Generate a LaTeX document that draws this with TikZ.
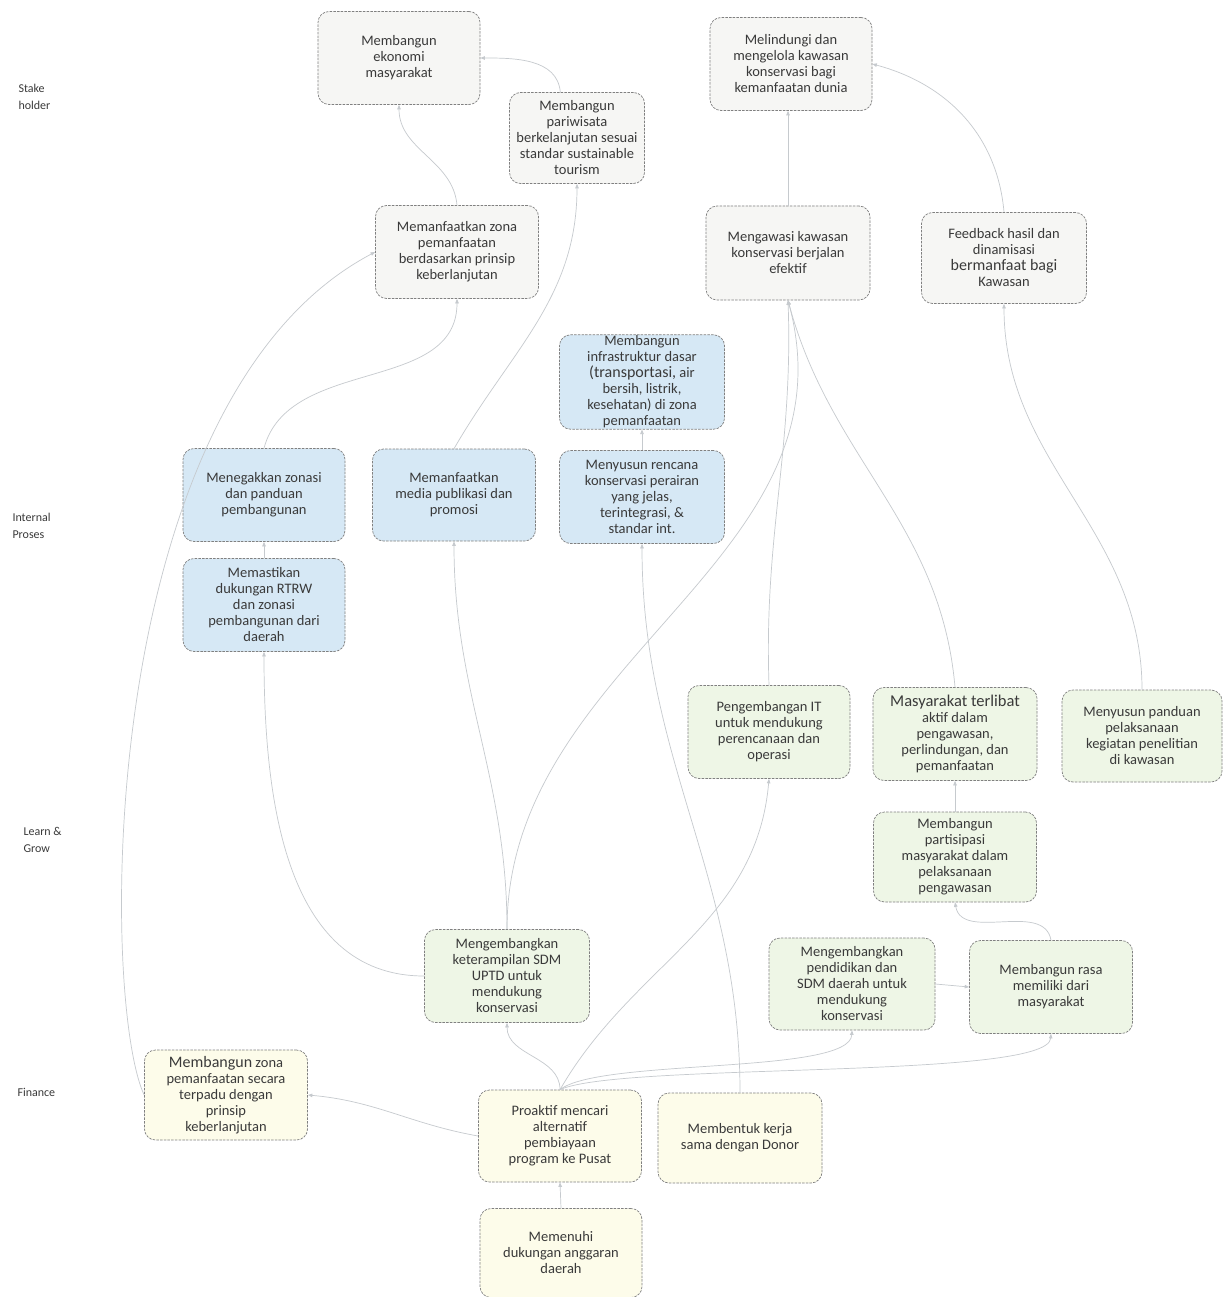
\documentclass[tikz,border=0pt]{standalone}
\usepackage{fontspec}
\setmainfont{Carlito}
\usetikzlibrary{arrows.meta}
\definecolor{shfill}{HTML}{F6F6F4}
\definecolor{ipfill}{HTML}{D6E8F5}
\definecolor{lgfill}{HTML}{EEF6E6}
\definecolor{fnfill}{HTML}{FDFCEA}
\definecolor{bordc}{HTML}{808080}
\definecolor{textc}{HTML}{3A3A3A}
\definecolor{linec}{HTML}{C6CACE}
\begin{document}
\begin{tikzpicture}[x=1pt,y=-1pt,
 box/.style={draw=bordc, line width=0.7pt, dash pattern=on 2.5pt off 1.2pt, rounded corners=11pt, align=center, text=textc, font=\fontsize{14.5}{16}\selectfont, inner sep=1pt},
 shb/.style={box, fill=shfill},
 ipb/.style={box, fill=ipfill},
 lgb/.style={box, fill=lgfill},
 fnb/.style={box, fill=fnfill},
 sz/.style 2 args={minimum width=#1pt, minimum height=#2pt},
 lab/.style={align=left, text=textc, font=\fontsize{12}{17}\selectfont, anchor=west},
 con/.style={draw=linec, line width=0.7pt, -{Triangle[length=4.5pt,width=3.5pt]}}
]
\useasboundingbox[fill=white] (0,0) rectangle (1225,1297);

% row labels
\node[lab] (lsh) at (15,97) {Stake\\holder};
\node[lab] (lip) at (9,526) {Internal\\Proses};
\node[lab] (llg) at (20,840) {Learn \&\\Grow};
\node[lab] (lfn) at (14,1092) {Finance};

% Stake holder
\node[shb, sz={162}{93}] (ekonomi) at (399,58) {Membangun\\ekonomi\\masyarakat};
\node[shb, sz={135}{91}] (pariwisata) at (577,138) {Membangun\\pariwisata\\berkelanjutan sesuai\\standar sustainable\\tourism};
\node[shb, sz={162}{93}] (melindungi) at (791,64) {Melindungi dan\\mengelola kawasan\\konservasi bagi\\kemanfaatan dunia};
\node[shb, sz={163}{93}] (zona) at (457,252) {Memanfaatkan zona\\pemanfaatan\\berdasarkan prinsip\\keberlanjutan};
\node[shb, sz={164}{94}] (mengawasi) at (788,253) {Mengawasi kawasan\\konservasi berjalan\\efektif};
\node[shb, sz={165}{91}] (feedback) at (1004,258) {Feedback hasil dan\\dinamisasi\\{\fontsize{16}{16}\selectfont bermanfaat bagi}\\Kawasan};

% Internal Proses
\node[ipb, sz={165}{93}] (infra) at (642,382) {Membangun\\infrastruktur dasar\\{\fontsize{16}{16}\selectfont (transportasi,} air\\bersih, listrik,\\kesehatan) di zona\\pemanfaatan};
\node[ipb, sz={165}{93}] (rencana) at (642,497) {Menyusun rencana\\konservasi perairan\\yang jelas,\\terintegrasi, \&\\standar int.};
\node[ipb, sz={162}{93}] (menegakkan) at (264,495) {Menegakkan zonasi\\dan panduan\\pembangunan};
\node[ipb, sz={163}{92}] (media) at (454,495) {Memanfaatkan\\media publikasi dan\\promosi};
\node[ipb, sz={162}{93}] (memastikan) at (264,605) {Memastikan\\dukungan RTRW\\dan zonasi\\pembangunan dari\\daerah};

% Learn & Grow
\node[lgb, sz={162}{93}] (it) at (769,732) {Pengembangan IT\\untuk mendukung\\perencanaan dan\\operasi};
\node[lgb, sz={164}{93}] (masyarakat) at (955,734) {{\fontsize{16.5}{17}\selectfont Masyarakat terlibat}\\aktif dalam\\pengawasan,\\perlindungan, dan\\pemanfaatan};
\node[lgb, sz={160}{92}] (panduan) at (1142,736) {Menyusun panduan\\pelaksanaan\\kegiatan penelitian\\di kawasan};
\node[lgb, sz={163}{90}] (partisipasi) at (955,857) {Membangun\\partisipasi\\masyarakat dalam\\pelaksanaan\\pengawasan};
\node[lgb, sz={165}{93}] (sdmuptd) at (507,976) {Mengembangkan\\keterampilan SDM\\UPTD untuk\\mendukung\\konservasi};
\node[lgb, sz={166}{92}] (pendidikan) at (852,984) {Mengembangkan\\pendidikan dan\\SDM daerah untuk\\mendukung\\konservasi};
\node[lgb, sz={163}{93}] (rasa) at (1051,987) {Membangun rasa\\memiliki dari\\masyarakat};

% Finance
\node[fnb, sz={163}{90}] (zonafin) at (226,1095) {{\fontsize{16}{16}\selectfont Membangun} zona\\pemanfaatan secara\\terpadu dengan\\prinsip\\keberlanjutan};
\node[fnb, sz={163}{92}] (proaktif) at (560,1136) {Proaktif mencari\\alternatif\\pembiayaan\\program ke Pusat};
\node[fnb, sz={164}{90}] (donor) at (740,1138) {Membentuk kerja\\sama dengan Donor};
\node[fnb, sz={162}{89}] (anggaran) at (561,1253) {Memenuhi\\dukungan anggaran\\daerah};

% connectors
\draw[con] (pariwisata.110) to[out=95,in=0] (ekonomi.east);
\draw[con] (zona.north) to[out=95,in=-90] (ekonomi.south);
\draw[con] (menegakkan.north) to[out=75,in=-90] (zona.south);
\draw[con] (media.north) to[out=60,in=-90] (pariwisata.south);
\draw[con] (mengawasi.north) -- (mengawasi.north |- melindungi.south);
\draw[con] (feedback.north) to[out=95,in=-15] (melindungi.east);
\draw[con] (it.north) to[out=92,in=-88] (mengawasi.south);
\draw[con] (masyarakat.north) to[out=95,in=-75] (mengawasi.south);
\draw[con] (sdmuptd.north) to[out=90,in=-75] (mengawasi.south);
\draw[con] (sdmuptd.north) to[out=90,in=-90] (media.south);
\draw[con] (panduan.north) to[out=90,in=-90] (feedback.south);
\draw[con] (rencana.north) -- (infra.south);
\draw[con] (donor.north) to[out=90,in=-90] (rencana.south);
\draw[con] (memastikan.north) -- (menegakkan.south);
\draw[con] (sdmuptd.west) to[out=180,in=-90] (memastikan.south);
\draw[con] (proaktif.north) to[out=60,in=-95] (it.south);
\draw[con] (proaktif.north) to[out=90,in=-90] (sdmuptd.south);
\draw[con] (proaktif.north) .. controls (600,1058) and (850,1075) .. (pendidikan.south);
\draw[con] (proaktif.north) .. controls (620,1062) and (1048,1080) .. (rasa.south);
\draw[con] (pendidikan.east) -- (rasa.west);
\draw[con] (rasa.north) to[out=100,in=-80] (partisipasi.south);
\draw[con] (partisipasi.north) -- (masyarakat.south);
\draw[con] (proaktif.west) to[out=170,in=-5] (zonafin.east);
\draw[con] (anggaran.north) -- (proaktif.south);
\draw[con] (zonafin.west) .. controls (100,1000) and (95,400) .. (zona.west);
\end{tikzpicture}
\end{document}
